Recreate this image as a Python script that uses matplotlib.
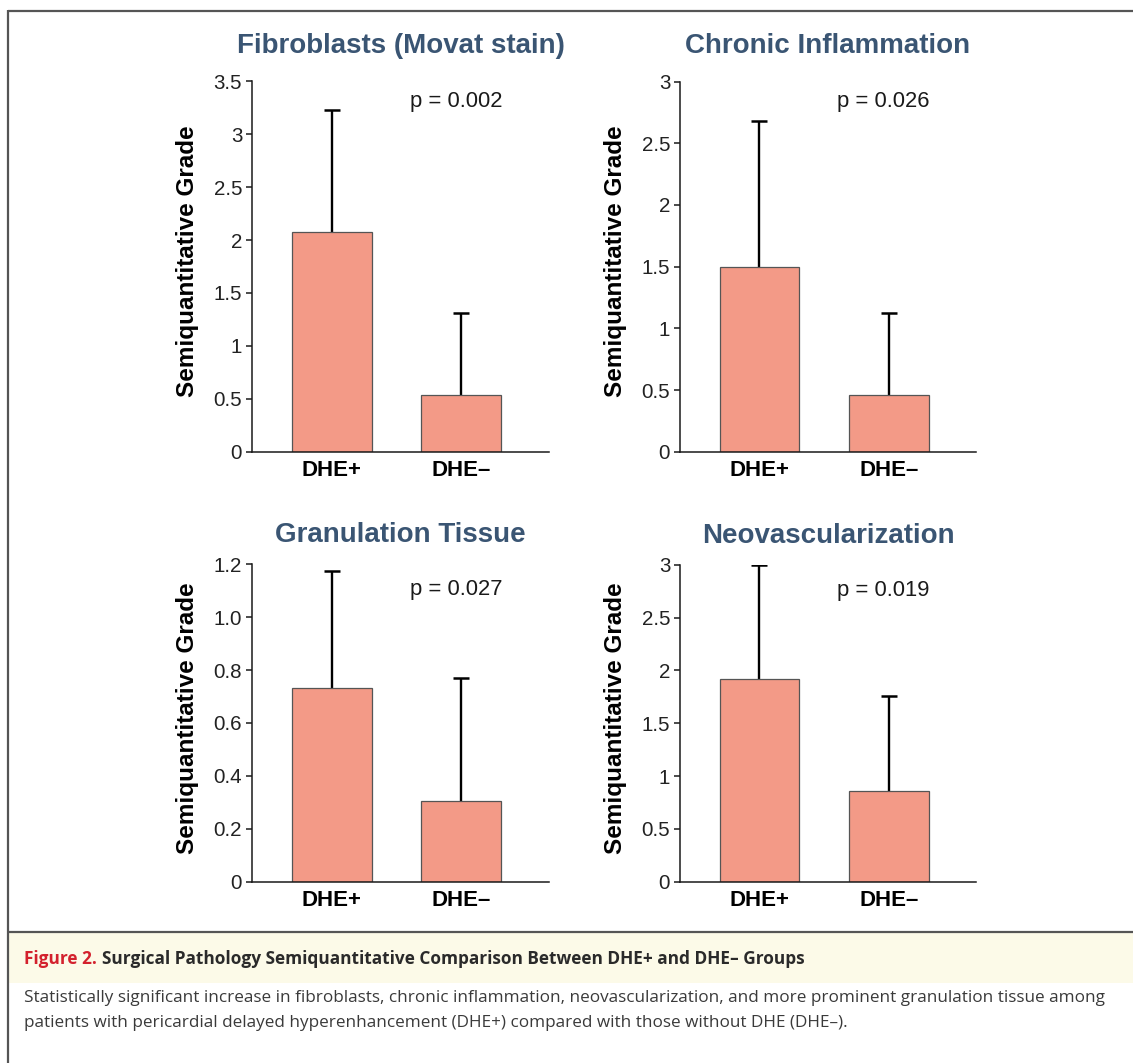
import numpy as np
import matplotlib
matplotlib.use("Agg")
from matplotlib import pyplot as plt
from matplotlib.transforms import blended_transform_factory

plt.rcParams['font.family'] = ['Liberation Sans', 'DejaVu Sans']

# data
groups = ["DHE+", "DHE–"]
titles = ["Fibroblasts (Movat stain)", "Chronic Inflammation",
          "Granulation Tissue", "Neovascularization"]
means = [[2.08, 0.54], [1.50, 0.46], [0.733, 0.305], [1.92, 0.86]]
upper = [[3.23, 1.31], [2.68, 1.12], [1.176, 0.769], [3.00, 1.76]]
p_labels = ["p = 0.002", "p = 0.026", "p = 0.027", "p = 0.019"]
y_max = [3.5, 3.0, 1.2, 3.0]
y_ticks = [[0, 0.5, 1, 1.5, 2, 2.5, 3, 3.5],
           [0, 0.5, 1, 1.5, 2, 2.5, 3],
           [0, 0.2, 0.4, 0.6, 0.8, 1.0, 1.2],
           [0, 0.5, 1, 1.5, 2, 2.5, 3]]
y_ticklabels = [["0", "0.5", "1", "1.5", "2", "2.5", "3", "3.5"],
                ["0", "0.5", "1", "1.5", "2", "2.5", "3"],
                ["0", "0.2", "0.4", "0.6", "0.8", "1.0", "1.2"],
                ["0", "0.5", "1", "1.5", "2", "2.5", "3"]]

caption_head = "Figure 2."
caption_title = "Surgical Pathology Semiquantitative Comparison Between DHE+ and DHE– Groups"
caption_lines = ["Statistically significant increase in fibroblasts, chronic inflammation, neovascularization, and more prominent granulation tissue among",
                 "patients with pericardial delayed hyperenhancement (DHE+) compared with those without DHE (DHE–)."]

W, H = 1133, 1063
fig = plt.figure(figsize=(W / 100, H / 100), dpi=100)


def rect(l, t, r, b):
    return [l / W, 1 - b / H, (r - l) / W, (b - t) / H]


# background frame + caption band, in pixel coords
bg = fig.add_axes([0, 0, 1, 1], zorder=-5)
bg.set_xlim(0, W)
bg.set_ylim(H, 0)
bg.axis('off')
bg.add_patch(plt.Rectangle((9, 933), W, 50, facecolor='#fcfae8', edgecolor='none'))
frame = dict(color='#555555', lw=1.6, solid_capstyle='butt')
bg.plot([8, W], [10.7, 10.7], **frame)
bg.plot([8, 8], [10, H], **frame)
bg.plot([8, W], [932, 932], **frame)

cap_font = ['Open Sans', 'DejaVu Sans']
head = bg.text(24, 964, caption_head, color='#d3212d', fontsize=12.4,
               fontweight='bold', family=cap_font, va='baseline')
bg.annotate(caption_title, xy=(1, 0), xycoords=head, xytext=(4, 0),
            textcoords='offset points', va='bottom', ha='left', color='#2a2a2a',
            fontsize=12.4, fontweight='bold', family=cap_font)
for y, line in zip([1002, 1027], caption_lines):
    bg.text(24, y, line, color='#3a3a3a', fontsize=12.3, family=cap_font,
            va='baseline')

rects = [rect(252, 81.3, 549, 451.7), rect(680, 81.5, 976, 451.7),
         rect(252, 564.3, 549, 881.7), rect(680, 564.8, 976, 881.7)]
title_y = [1.076, 1.076, 1.070, 1.070]
p_y = [0.931, 0.931, 0.903, 0.903]

x = np.arange(len(groups))
for i in range(4):
    ax = fig.add_axes(rects[i])
    ax.bar(x, means[i], width=0.617, color='#f39a87', edgecolor='#555555',
           linewidth=0.9, zorder=2)
    ax.vlines(x, means[i], upper[i], color='black', lw=1.7, zorder=1)
    ax.plot(x, upper[i], ls='none', marker='_', ms=11.5, mew=1.8, color='black', zorder=3)

    ax.set_xlim(-0.615, 1.675)
    ax.set_ylim(0, y_max[i])
    ax.set_yticks(y_ticks[i])
    ax.set_yticklabels(y_ticklabels[i])
    ax.set_xticks(x)
    ax.set_xticklabels(groups, fontweight='bold', fontsize=16)
    ax.tick_params(axis='x', length=0, pad=6)
    ax.tick_params(axis='y', length=4.1, width=1.1, pad=3, labelsize=14.8,
                   labelcolor='#222222', color='#1a1a1a')
    for s in ['top', 'right']:
        ax.spines[s].set_visible(False)
    for s in ['left', 'bottom']:
        ax.spines[s].set_linewidth(1.1)
        ax.spines[s].set_color('#1a1a1a')

    ax.set_ylabel("Semiquantitative Grade", fontweight='bold', fontsize=17.5)
    ax.yaxis.set_label_coords(-0.18, 0.515)

    ax.text(0.5, title_y[i], titles[i], transform=ax.transAxes, ha='center',
            va='baseline', fontsize=20, fontweight='bold', color='#3a5573')
    tr = blended_transform_factory(ax.transData, ax.transAxes)
    ax.text(0.6, p_y[i], p_labels[i], transform=tr, ha='left', va='baseline',
            fontsize=15.8, color='#1a1a1a')

fig.savefig('out.png', dpi=100)
